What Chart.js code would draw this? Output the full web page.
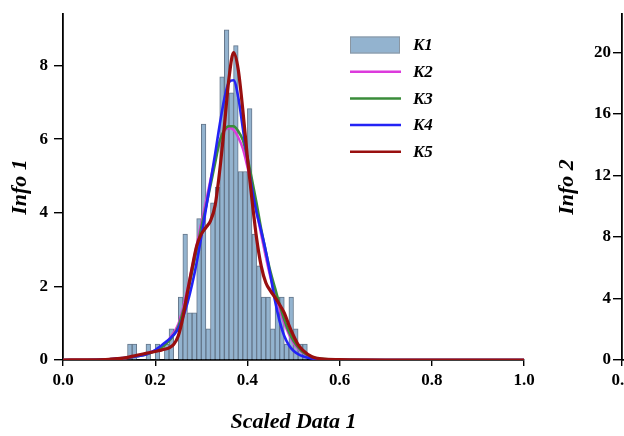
<!DOCTYPE html>
<html>
<head>
<meta charset="utf-8">
<script src="https://cdn.jsdelivr.net/npm/chart.js@4.4.1/dist/chart.umd.min.js"></script>
<style>
  html, body { margin: 0; padding: 0; background: #fff; overflow: hidden; }
  #wrap { position: relative; width: 624px; height: 436px; overflow: hidden; }
  #c1 { position: absolute; left: 0; top: 0; }
  #c2 { position: absolute; left: 547px; top: 0; }
</style>
</head>
<body>
<div id="wrap">
  <canvas id="c1" width="624" height="436"></canvas>
  <canvas id="c2" width="300" height="436"></canvas>
</div>
<script>
// histogram bins (centre of each 0.01 wide bin) and density per bin
const binCenters = [0.145, 0.155, 0.165, 0.175, 0.185, 0.195, 0.205, 0.215, 0.225, 0.235,
  0.245, 0.255, 0.265, 0.275, 0.285, 0.295, 0.305, 0.315, 0.325, 0.335,
  0.345, 0.355, 0.365, 0.375, 0.385, 0.395, 0.405, 0.415, 0.425, 0.435,
  0.445, 0.455, 0.465, 0.475, 0.485, 0.495, 0.505, 0.515, 0.525];
const k1 = [0.43, 0.43, 0, 0, 0.43, 0, 0.43, 0, 0.43, 0.85,
  0, 1.71, 3.42, 1.28, 1.28, 3.84, 6.41, 0.85, 4.27, 4.70,
  7.69, 8.97, 7.26, 8.54, 5.12, 5.12, 6.83, 3.42, 2.56, 1.71,
  1.71, 0.85, 1.71, 1.71, 0.43, 1.71, 0.85, 0.43, 0.43];

// density curves, all sampled on the same x grid
const gridX = [0, 0.05, 0.10, 0.13, 0.16, 0.18,
  0.20, 0.21, 0.22, 0.23, 0.24, 0.25, 0.26, 0.27, 0.28, 0.29,
  0.30, 0.31, 0.32, 0.33, 0.34, 0.35, 0.36, 0.37, 0.38, 0.39,
  0.40, 0.41, 0.42, 0.43, 0.44, 0.45, 0.46, 0.47, 0.48, 0.49,
  0.50, 0.51, 0.52, 0.54, 0.56, 0.60, 0.70, 1.00];
const k2 = [0, 0, 0.01, 0.04, 0.11, 0.17,
  0.26, 0.33, 0.43, 0.56, 0.74, 0.97, 1.4, 1.92, 2.52, 3.12,
  3.72, 4.3, 4.9, 5.45, 5.95, 6.22, 6.3, 6.25, 6.05, 5.75,
  5.25, 4.7, 4.05, 3.4, 2.8, 2.25, 1.8, 1.38, 1.0, 0.7,
  0.47, 0.31, 0.2, 0.07, 0.025, 0.005, 0, 0];
const k3 = [0, 0, 0.01, 0.04, 0.1, 0.15,
  0.24, 0.3, 0.4, 0.52, 0.68, 0.9, 1.3, 1.8, 2.4, 3.0,
  3.6, 4.15, 4.75, 5.35, 5.95, 6.25, 6.35, 6.35, 6.22, 5.98,
  5.5, 4.9, 4.25, 3.55, 2.95, 2.4, 1.95, 1.5, 1.1, 0.77,
  0.52, 0.35, 0.22, 0.08, 0.03, 0.005, 0, 0];
const k4 = [0, 0, 0.02, 0.05, 0.1, 0.15,
  0.27, 0.36, 0.46, 0.56, 0.68, 0.85, 1.15, 1.55, 2.05, 2.65,
  3.35, 4.1, 4.85, 5.6, 6.4, 7.1, 7.55, 7.6, 7.15, 6.3,
  5.45, 4.65, 4.0, 3.5, 2.95, 2.3, 1.6, 1.05, 0.65, 0.4,
  0.25, 0.16, 0.1, 0.04, 0.015, 0, 0, 0];
const k5 = [0, 0.005, 0.02, 0.05, 0.13, 0.18,
  0.23, 0.26, 0.29, 0.33, 0.42, 0.65, 1.15, 1.85, 2.5, 3.1,
  3.42, 3.6, 3.78, 4.2, 5.15, 6.35, 7.65, 8.35, 7.9, 6.8,
  5.5, 4.35, 3.3, 2.55, 2.1, 1.88, 1.7, 1.5, 1.28, 0.95,
  0.66, 0.42, 0.27, 0.09, 0.03, 0.01, 0, 0];

const xTicks = [0, 0.2, 0.4, 0.6, 0.8, 1.0];
const yTicks1 = [0, 2, 4, 6, 8];
const yTicks2 = [0, 4, 8, 12, 16, 20];

Chart.defaults.color = '#000';
Chart.defaults.font.family = '"Liberation Serif", "Times New Roman", serif';

const serif = '"Liberation Serif", "Times New Roman", serif';
const tickFont = { family: serif, size: 17, weight: 'bold' };
const titleFont = { family: serif, size: 22, weight: 'bold', style: 'italic' };

const pts = (xs, ys) => xs.map((x, i) => ({ x: x, y: ys[i] }));

// black axis with short outward ticks, no grid
function axis(tickLen, extra) {
  return Object.assign({
    type: 'linear',
    border: { color: '#000', width: 1.8 },
    grid: { drawOnChartArea: false, color: '#000', lineWidth: 1.4, tickLength: tickLen, offset: false }
  }, extra);
}

// fixed box sizes so both panels line up; drop the label overhang padding
const fixedY = (w) => (s) => { s.width = w; s.paddingTop = 0; s.paddingBottom = 0; };
const fixedX = (h) => (s) => { s.height = h; };

// legend drawn inside the plot, one row per dataset
const boxLegend = {
  id: 'boxLegend',
  afterDatasetsDraw(chart) {
    const { ctx, chartArea } = chart;
    const x0 = chartArea.left + 287;
    let y = chartArea.top + 31;
    ctx.save();
    ctx.font = 'italic bold 17px ' + serif;
    ctx.textBaseline = 'middle';
    ctx.textAlign = 'left';
    chart.data.datasets.forEach((ds) => {
      if (ds.type === 'line') {
        ctx.strokeStyle = ds.borderColor;
        ctx.lineWidth = 2.5;
        ctx.beginPath();
        ctx.moveTo(x0, y);
        ctx.lineTo(x0 + 51, y);
        ctx.stroke();
      } else {
        ctx.fillStyle = ds.backgroundColor;
        ctx.fillRect(x0, y - 8.5, 50, 17);
        ctx.strokeStyle = '#8a96a2';
        ctx.lineWidth = 1;
        ctx.strokeRect(x0 + 0.5, y - 8, 49, 16);
      }
      ctx.fillStyle = '#000';
      ctx.fillText(ds.label, x0 + 63, y + 1);
      y += 26.7;
    });
    ctx.restore();
  }
};

const lineDs = (label, ys, color, width, order) => ({
  type: 'line',
  label: label,
  data: pts(gridX, ys),
  borderColor: color,
  borderWidth: width,
  pointRadius: 0,
  cubicInterpolationMode: 'monotone',
  order: order
});

new Chart(document.getElementById('c1'), {
  type: 'bar',
  data: {
    datasets: [
      {
        type: 'bar',
        label: 'K1',
        data: pts(binCenters, k1),
        backgroundColor: '#93b3cf',
        borderColor: '#64768a',
        borderWidth: 1,
        barPercentage: 1,
        categoryPercentage: 1,
        order: 5
      },
      lineDs('K2', k2, '#dc3adc', 2.5, 4),
      lineDs('K3', k3, '#3a8c3a', 2.6, 3),
      lineDs('K4', k4, '#2323f5', 2.6, 2),
      lineDs('K5', k5, '#990f0f', 3.2, 1)
    ]
  },
  options: {
    responsive: false,
    animation: false,
    devicePixelRatio: 1,
    layout: { padding: { left: 0, right: 100, top: 14, bottom: 0 } },
    plugins: { legend: { display: false }, tooltip: { enabled: false } },
    scales: {
      x: axis(6, {
        min: 0, max: 1, offset: false,
        afterBuildTicks: (s) => { s.ticks = xTicks.map(v => ({ value: v })); },
        afterFit: fixedX(76),
        ticks: { font: tickFont, color: '#000', padding: 4, callback: (v) => v.toFixed(1) },
        title: { display: true, text: 'Scaled Data 1', font: titleFont, color: '#000', padding: { top: 0, bottom: 0 } }
      }),
      y: axis(9, {
        min: 0, max: 9.4,
        afterBuildTicks: (s) => { s.ticks = yTicks1.map(v => ({ value: v })); },
        afterFit: fixedY(63),
        ticks: { font: tickFont, color: '#000', padding: 6 },
        title: { display: true, text: 'Info 1', font: titleFont, color: '#000', padding: { top: 7, bottom: 0 } }
      })
    }
  },
  plugins: [boxLegend]
});

// second panel, only its left edge falls inside the page
new Chart(document.getElementById('c2'), {
  type: 'line',
  data: { datasets: [{ label: 'Info 2', data: [] }] },
  options: {
    responsive: false,
    animation: false,
    devicePixelRatio: 1,
    layout: { padding: { left: 0, right: 20, top: 14, bottom: 0 } },
    plugins: { legend: { display: false }, tooltip: { enabled: false } },
    scales: {
      x: axis(6, {
        min: 0, max: 1,
        afterBuildTicks: (s) => { s.ticks = xTicks.map(v => ({ value: v })); },
        afterFit: fixedX(76),
        ticks: { font: tickFont, color: '#000', padding: 4, callback: (v) => v.toFixed(1) }
      }),
      y: axis(9, {
        min: 0, max: 22.5,
        afterBuildTicks: (s) => { s.ticks = yTicks2.map(v => ({ value: v })); },
        afterFit: fixedY(75),
        ticks: { font: tickFont, color: '#000', padding: 2 },
        title: { display: true, text: 'Info 2', font: titleFont, color: '#000', padding: { top: 7, bottom: 0 } }
      })
    }
  }
});
</script>
</body>
</html>
